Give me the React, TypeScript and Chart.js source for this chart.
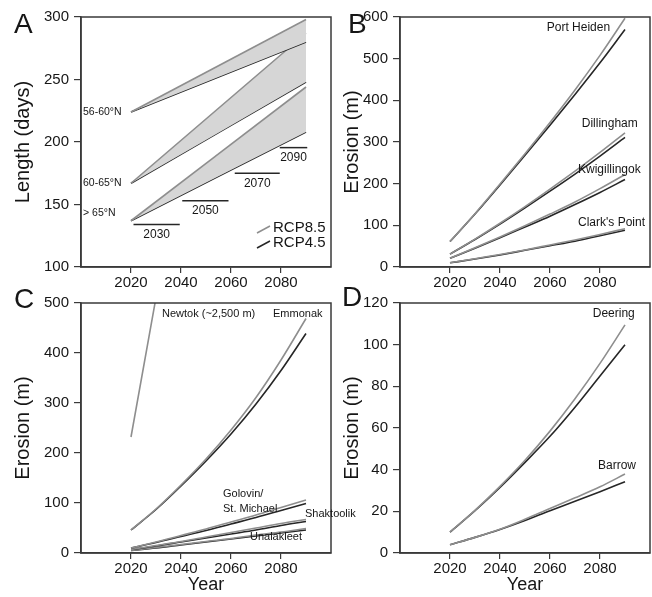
import React, { useEffect, useRef } from 'react';
import { Chart, registerables } from 'chart.js';

Chart.register(...registerables);

const FONT = '"Liberation Sans", Arial, Helvetica, sans-serif';
const INK = '#161616';
const GRAY = '#8e8e8e';
const DARK = '#262626';
const BAND = '#d6d6d6';
const FRAME = '#3a3a3a';

// ---------- shared x axis ----------
const X_TICKS = [2020, 2040, 2060, 2080];
const YEARS = [2020, 2030, 2040, 2050, 2060, 2070, 2080, 2090];

// ---------- Panel A: season length (days) ----------
const A_YEARS = [2020, 2090];
const A_BANDS = ['56-60°N', '60-65°N', '> 65°N'];
const A_5660_RCP85 = [224, 298];
const A_5660_RCP45 = [224, 280];
const A_6065_RCP85 = [167, 287];
const A_6065_RCP45 = [167, 248];
const A_GT65_RCP85 = [137, 244];
const A_GT65_RCP45 = [137, 208];
const A_PERIODS = ['2030', '2050', '2070', '2090'];
const A_PERIOD_FROM = [2021, 2040.5, 2061.5, 2079.5];
const A_PERIOD_TO = [2039.5, 2059, 2079.5, 2090.5];
const A_PERIOD_DAYS = [134, 153, 175, 195.5];
const A_LEGEND = ['RCP8.5', 'RCP4.5'];

// ---------- Panel B: erosion (m) ----------
const B_SITES = ['Port Heiden', 'Dillingham', 'Kwigillingok', "Clark's Point"];
const B_PORTHEIDEN_RCP85 = [61, 128, 199, 272, 347, 425, 508, 597];
const B_PORTHEIDEN_RCP45 = [61, 127, 197, 268, 340, 414, 490, 570];
const B_DILLINGHAM_RCP85 = [31, 67, 105, 145, 187, 230, 275, 322];
const B_DILLINGHAM_RCP45 = [31, 66, 103, 142, 182, 223, 266, 311];
const B_KWIGILLINGOK_RCP85 = [21, 46, 72, 99, 127, 156, 188, 222];
const B_KWIGILLINGOK_RCP45 = [21, 45, 70, 96, 122, 150, 179, 210];
const B_CLARKSPOINT_RCP85 = [10, 20, 30, 41, 53, 65, 78, 92];
const B_CLARKSPOINT_RCP45 = [10, 19, 29, 40, 51, 62, 75, 88];

// ---------- Panel C: erosion (m) ----------
const C_SITES = ['Newtok (~2,500 m)', 'Emmonak', 'Golovin/', 'St. Michael', 'Shaktoolik', 'Unalakleet'];
const C_NEWTOK_YEARS = [2020, 2040];
const C_NEWTOK = [232, 790];
const C_EMMONAK_RCP85 = [46, 88, 136, 188, 246, 311, 386, 469];
const C_EMMONAK_RCP45 = [46, 87, 134, 184, 238, 298, 365, 439];
const C_GOLOVIN_RCP85 = [10, 22, 35, 48, 62, 76, 91, 106];
const C_GOLOVIN_RCP45 = [10, 21, 33, 45, 58, 71, 85, 99];
const C_SHAKTOOLIK_RCP85 = [7, 15, 23, 32, 41, 50, 59, 67];
const C_SHAKTOOLIK_RCP45 = [7, 14, 22, 30, 38, 46, 55, 63];
const C_UNALAKLEET_RCP85 = [5, 11, 17, 23, 29, 36, 42, 49];
const C_UNALAKLEET_RCP45 = [5, 10, 16, 22, 28, 34, 40, 46];

// ---------- Panel D: erosion (m) ----------
const D_SITES = ['Deering', 'Barrow'];
const D_DEERING_RCP85 = [10, 20.5, 32, 44.5, 58.5, 74, 91, 109.5];
const D_DEERING_RCP45 = [10, 20.3, 31.5, 43.5, 56, 70, 85, 100];
const D_BARROW_RCP85 = [4, 7.5, 11.4, 16.2, 21.4, 26.5, 31.8, 37.9];
const D_BARROW_RCP45 = [4, 7.5, 11.3, 15.6, 20.3, 24.8, 29.4, 34.2];

type Ann = { text: string; x: number; y: number; size: number; align?: CanvasTextAlign };

interface Spec {
  letter: string;
  letterX: number;
  letterY: number;
  area: { left: number; top: number; right: number; bottom: number };
  yBoxLeft: number;
  xBoxH: number;
  yMin: number;
  yMax: number;
  yStep: number;
  yTitle: string;
  xTitle: boolean;
  datasets: any[];
  anns: Ann[];
  extra?: (chart: any) => void;
}

const line = (xs: number[], ys: number[], color: string, extra: any = {}) => ({
  data: xs.map((x, i) => ({ x, y: ys[i] })),
  borderColor: color,
  backgroundColor: color,
  borderWidth: 1.6,
  pointRadius: 0,
  fill: false,
  cubicInterpolationMode: 'monotone',
  ...extra,
});

const W = 652;
const H = 597;

function makeConfig(s: Spec): any {
  const yW = s.area.left - s.yBoxLeft;
  const deco = {
    id: 'deco',
    afterDraw(chart: any) {
      const { ctx, chartArea: ca, scales } = chart;
      const x = scales.x;
      const y = scales.y;
      ctx.save();
      ctx.strokeStyle = FRAME;
      ctx.lineWidth = 1.5;
      ctx.strokeRect(ca.left, ca.top, ca.right - ca.left, ca.bottom - ca.top);
      ctx.fillStyle = INK;
      ctx.font = `28px ${FONT}`;
      ctx.textAlign = 'left';
      ctx.textBaseline = 'alphabetic';
      ctx.fillText(s.letter, s.letterX, s.letterY);
      ctx.textBaseline = 'middle';
      for (const a of s.anns) {
        ctx.font = `${a.size}px ${FONT}`;
        ctx.textAlign = a.align ?? 'left';
        ctx.fillText(a.text, x.getPixelForValue(a.x), y.getPixelForValue(a.y));
      }
      if (s.extra) s.extra(chart);
      ctx.restore();
    },
  };
  return {
    type: 'line',
    data: { datasets: s.datasets },
    plugins: [deco],
    options: {
      responsive: false,
      animation: false,
      events: [],
      layout: {
        padding: {
          left: s.yBoxLeft,
          top: s.area.top,
          right: W - s.area.right,
          bottom: H - s.area.bottom - s.xBoxH,
        },
      },
      plugins: { legend: { display: false }, tooltip: { enabled: false } },
      scales: {
        x: {
          type: 'linear',
          min: 2000,
          max: 2100,
          afterBuildTicks: (sc: any) => {
            sc.ticks = X_TICKS.map((v) => ({ value: v }));
          },
          afterFit: (sc: any) => {
            sc.height = s.xBoxH;
          },
          ticks: {
            color: INK,
            font: { family: FONT, size: 15 },
            padding: 1,
            maxRotation: 0,
            autoSkip: false,
            callback: (v: any) => String(v),
          },
          grid: { display: true, drawOnChartArea: false, drawTicks: true, tickLength: 6, color: FRAME, lineWidth: 1.2 },
          border: { display: true, color: FRAME, width: 1.5 },
          title: {
            display: s.xTitle,
            text: 'Year',
            color: INK,
            font: { family: FONT, size: 18 },
            padding: { top: 0, bottom: 0 },
          },
        },
        y: {
          type: 'linear',
          min: s.yMin,
          max: s.yMax,
          afterFit: (sc: any) => {
            sc.width = yW;
          },
          ticks: {
            stepSize: s.yStep,
            color: INK,
            font: { family: FONT, size: 15 },
            padding: 5,
            callback: (v: any) => String(v),
          },
          grid: { display: true, drawOnChartArea: false, drawTicks: true, tickLength: 7, color: FRAME, lineWidth: 1.2 },
          border: { display: true, color: FRAME, width: 1.5 },
          title: {
            display: true,
            text: s.yTitle,
            color: INK,
            font: { family: FONT, size: 20 },
            padding: { top: 0, bottom: 0 },
          },
        },
      },
    },
  };
}

// ---------- panel specs ----------
const ROW1 = { top: 17, bottom: 267 };
const ROW2 = { top: 303, bottom: 553 };
const COL1 = { left: 81, right: 331 };
const COL2 = { left: 400, right: 650 };

const specA: Spec = {
  letter: 'A',
  letterX: 14,
  letterY: 33,
  area: { ...COL1, ...ROW1 },
  yBoxLeft: 11,
  xBoxH: 30,
  yMin: 100,
  yMax: 300,
  yStep: 50,
  yTitle: 'Length (days)',
  xTitle: false,
  datasets: [
    line(A_YEARS, A_5660_RCP85, GRAY, { fill: '+1', backgroundColor: BAND }),
    line(A_YEARS, A_5660_RCP45, DARK),
    line(A_YEARS, A_6065_RCP85, GRAY, { fill: '+1', backgroundColor: BAND }),
    line(A_YEARS, A_6065_RCP45, DARK),
    line(A_YEARS, A_GT65_RCP85, GRAY, { fill: '+1', backgroundColor: BAND }),
    line(A_YEARS, A_GT65_RCP45, DARK),
    ...A_PERIODS.map((_, i) =>
      line([A_PERIOD_FROM[i], A_PERIOD_TO[i]], [A_PERIOD_DAYS[i], A_PERIOD_DAYS[i]], DARK, { borderWidth: 1.5 })
    ),
  ],
  anns: [
    { text: A_BANDS[0], x: 2000.8, y: 224, size: 10.5 },
    { text: A_BANDS[1], x: 2000.8, y: 167, size: 10.5 },
    { text: A_BANDS[2], x: 2000.8, y: 143, size: 10.5 },
  ],
  extra: (chart: any) => {
    const { ctx, chartArea: ca, scales } = chart;
    ctx.fillStyle = INK;
    ctx.font = `12px ${FONT}`;
    ctx.textAlign = 'center';
    ctx.textBaseline = 'middle';
    A_PERIODS.forEach((p, i) => {
      const px = scales.x.getPixelForValue((A_PERIOD_FROM[i] + A_PERIOD_TO[i]) / 2);
      const py = scales.y.getPixelForValue(A_PERIOD_DAYS[i]) + 10;
      ctx.fillText(p, px, py);
    });
    // legend
    const lx = ca.right - 74;
    const rows = [ca.bottom - 39, ca.bottom - 24];
    const cols = [GRAY, DARK];
    A_LEGEND.forEach((t, i) => {
      ctx.strokeStyle = cols[i];
      ctx.lineWidth = 1.5;
      ctx.beginPath();
      ctx.moveTo(lx, rows[i] + 5);
      ctx.lineTo(lx + 13, rows[i] - 2);
      ctx.stroke();
      ctx.fillStyle = INK;
      ctx.font = `15px ${FONT}`;
      ctx.textAlign = 'left';
      ctx.fillText(t, lx + 16, rows[i]);
    });
  },
};

const specB: Spec = {
  letter: 'B',
  letterX: 348,
  letterY: 33,
  area: { ...COL2, ...ROW1 },
  yBoxLeft: 340,
  xBoxH: 30,
  yMin: 0,
  yMax: 600,
  yStep: 100,
  yTitle: 'Erosion (m)',
  xTitle: false,
  datasets: [
    line(YEARS, B_PORTHEIDEN_RCP85, GRAY),
    line(YEARS, B_PORTHEIDEN_RCP45, DARK),
    line(YEARS, B_DILLINGHAM_RCP85, GRAY),
    line(YEARS, B_DILLINGHAM_RCP45, DARK),
    line(YEARS, B_KWIGILLINGOK_RCP85, GRAY),
    line(YEARS, B_KWIGILLINGOK_RCP45, DARK),
    line(YEARS, B_CLARKSPOINT_RCP85, GRAY),
    line(YEARS, B_CLARKSPOINT_RCP45, DARK),
  ],
  anns: [
    { text: B_SITES[0], x: 2058.7, y: 574, size: 12 },
    { text: B_SITES[1], x: 2072.7, y: 345, size: 12 },
    { text: B_SITES[2], x: 2071.2, y: 233, size: 12 },
    { text: B_SITES[3], x: 2071.2, y: 106, size: 12 },
  ],
};

const specC: Spec = {
  letter: 'C',
  letterX: 14,
  letterY: 308,
  area: { ...COL1, ...ROW2 },
  yBoxLeft: 11,
  xBoxH: 43,
  yMin: 0,
  yMax: 500,
  yStep: 100,
  yTitle: 'Erosion (m)',
  xTitle: true,
  datasets: [
    line(C_NEWTOK_YEARS, C_NEWTOK, GRAY),
    line(YEARS, C_EMMONAK_RCP85, GRAY),
    line(YEARS, C_EMMONAK_RCP45, DARK),
    line(YEARS, C_GOLOVIN_RCP85, GRAY),
    line(YEARS, C_GOLOVIN_RCP45, DARK),
    line(YEARS, C_SHAKTOOLIK_RCP85, GRAY),
    line(YEARS, C_SHAKTOOLIK_RCP45, DARK),
    line(YEARS, C_UNALAKLEET_RCP85, GRAY),
    line(YEARS, C_UNALAKLEET_RCP45, DARK),
  ],
  anns: [
    { text: C_SITES[0], x: 2032.4, y: 479, size: 11 },
    { text: C_SITES[1], x: 2076.8, y: 479, size: 11 },
    { text: C_SITES[2], x: 2056.8, y: 119, size: 11 },
    { text: C_SITES[3], x: 2056.8, y: 89, size: 11 },
    { text: C_SITES[4], x: 2089.6, y: 79, size: 11 },
    { text: C_SITES[5], x: 2067.6, y: 33, size: 11 },
  ],
};

const specD: Spec = {
  letter: 'D',
  letterX: 342,
  letterY: 306,
  area: { ...COL2, ...ROW2 },
  yBoxLeft: 340,
  xBoxH: 43,
  yMin: 0,
  yMax: 120,
  yStep: 20,
  yTitle: 'Erosion (m)',
  xTitle: true,
  datasets: [
    line(YEARS, D_DEERING_RCP85, GRAY),
    line(YEARS, D_DEERING_RCP45, DARK),
    line(YEARS, D_BARROW_RCP85, GRAY),
    line(YEARS, D_BARROW_RCP45, DARK),
  ],
  anns: [
    { text: D_SITES[0], x: 2077.1, y: 115, size: 12 },
    { text: D_SITES[1], x: 2079.2, y: 42, size: 12 },
  ],
};

function Panel({ spec }: { spec: Spec }) {
  const ref = useRef<HTMLCanvasElement>(null);
  useEffect(() => {
    if (!ref.current) return;
    const chart = new Chart(ref.current, makeConfig(spec));
    return () => chart.destroy();
  }, [spec]);
  return (
    <canvas
      ref={ref}
      width={W}
      height={H}
      style={{ position: 'absolute', left: 0, top: 0, width: W, height: H, pointerEvents: 'none' }}
    />
  );
}

export default function App() {
  return (
    <div style={{ position: 'absolute', left: 0, top: 0, width: W, height: H, background: '#ffffff' }}>
      <Panel spec={specA} />
      <Panel spec={specB} />
      <Panel spec={specC} />
      <Panel spec={specD} />
    </div>
  );
}
